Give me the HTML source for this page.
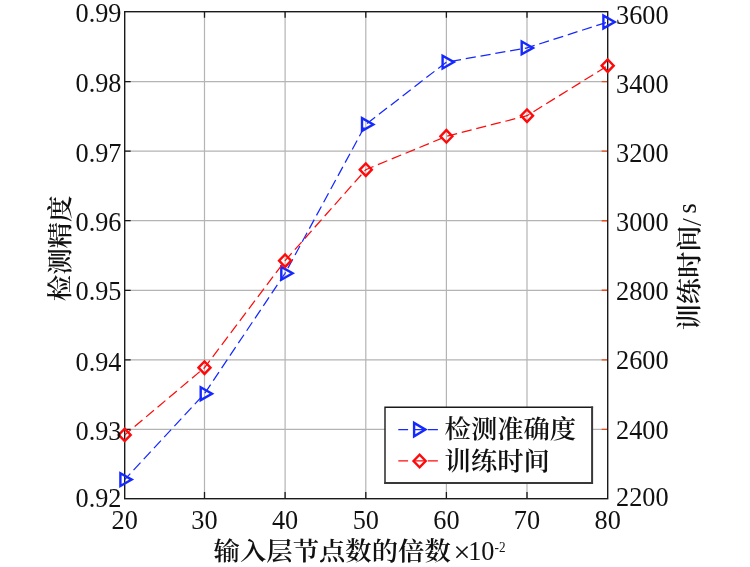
<!DOCTYPE html>
<html lang="zh"><head><meta charset="utf-8"><title>chart</title>
<style>html,body{margin:0;padding:0;background:#fff}svg{display:block;will-change:transform}text{font-family:'Liberation Serif','Noto Serif CJK SC',serif;fill:#111}.n{font-size:26.3px}.c{font-size:26.2px;font-weight:600}</style></head><body>
<svg width="750" height="567" viewBox="0 0 750 567">
<rect width="750" height="567" fill="#fff"/>
<path d="M204.5 11.7V498.7M285.1 11.7V498.7M365.8 11.7V498.7M446.4 11.7V498.7M527.0 11.7V498.7M124.7 81.6H607.7M124.7 151.1H607.7M124.7 220.7H607.7M124.7 290.3H607.7M124.7 359.9H607.7M124.7 429.4H607.7" stroke="#b4b4b4" stroke-width="1.2" fill="none"/>
<path d="M204.5 11.7v6.0M204.5 498.7v-6.8M285.1 11.7v6.0M285.1 498.7v-6.8M365.8 11.7v6.0M365.8 498.7v-6.8M446.4 11.7v6.0M446.4 498.7v-6.8M527.0 11.7v6.0M527.0 498.7v-6.8M124.7 81.6h6.0M124.7 151.1h6.0M124.7 220.7h6.0M124.7 290.3h6.0M124.7 359.9h6.0M124.7 429.4h6.0" stroke="#1a1a1a" stroke-width="1.3" fill="none"/>
<path d="M607.7 81.6h-6.0M607.7 151.1h-6.0M607.7 220.7h-6.0M607.7 290.3h-6.0M607.7 359.9h-6.0M607.7 429.4h-6.0" stroke="#f04a18" stroke-width="1.4" fill="none"/>
<rect x="124.7" y="11.7" width="483.0" height="487.0" fill="none" stroke="#1a1a1a" stroke-width="1.4"/>
<polyline points="124.7,479.6 204.5,393.7 285.1,273.3 365.8,124.5 446.4,62.1 527.0,47.9 607.7,22.0" fill="none" stroke="#1428ff" stroke-width="1.25" stroke-dasharray="10.2 4.8" stroke-dashoffset="2"/>
<polygon points="120.4,473.2 120.4,486.0 131.7,479.6" fill="none" stroke="#1428ff" stroke-width="2.4"/>
<polygon points="200.7,387.3 200.7,400.1 212.0,393.7" fill="none" stroke="#1428ff" stroke-width="2.4"/>
<polygon points="281.3,266.9 281.3,279.7 292.6,273.3" fill="none" stroke="#1428ff" stroke-width="2.4"/>
<polygon points="362.0,118.1 362.0,130.9 373.3,124.5" fill="none" stroke="#1428ff" stroke-width="2.4"/>
<polygon points="442.6,55.7 442.6,68.5 453.9,62.1" fill="none" stroke="#1428ff" stroke-width="2.4"/>
<polygon points="521.7,41.5 521.7,54.3 533.0,47.9" fill="none" stroke="#1428ff" stroke-width="2.4"/>
<polygon points="603.4,15.6 603.4,28.4 614.7,22.0" fill="none" stroke="#1428ff" stroke-width="2.4"/>
<polyline points="124.7,434.9 204.5,367.7 285.1,260.7 365.8,169.7 446.4,136.3 527.0,115.7 607.7,65.7" fill="none" stroke="#ff0a0a" stroke-width="1.25" stroke-dasharray="10.2 4.8" stroke-dashoffset="2"/>
<polygon points="118.7,434.9 124.7,428.7 130.7,434.9 124.7,441.1" fill="none" stroke="#ff0a0a" stroke-width="2.4"/>
<polygon points="198.5,367.7 204.5,361.5 210.5,367.7 204.5,373.9" fill="none" stroke="#ff0a0a" stroke-width="2.4"/>
<polygon points="279.1,260.7 285.1,254.5 291.1,260.7 285.1,266.9" fill="none" stroke="#ff0a0a" stroke-width="2.4"/>
<polygon points="359.8,169.7 365.8,163.5 371.8,169.7 365.8,175.9" fill="none" stroke="#ff0a0a" stroke-width="2.4"/>
<polygon points="440.4,136.3 446.4,130.1 452.4,136.3 446.4,142.5" fill="none" stroke="#ff0a0a" stroke-width="2.4"/>
<polygon points="521.0,115.7 527.0,109.5 533.0,115.7 527.0,121.9" fill="none" stroke="#ff0a0a" stroke-width="2.4"/>
<polygon points="601.7,65.7 607.7,59.5 613.7,65.7 607.7,71.9" fill="none" stroke="#ff0a0a" stroke-width="2.4"/>
<text class="n" transform="translate(121.5 22.0) scale(1 1.055)" text-anchor="end">0.99</text>
<text class="n" transform="translate(121.5 91.6) scale(1 1.055)" text-anchor="end">0.98</text>
<text class="n" transform="translate(121.5 161.7) scale(1 1.055)" text-anchor="end">0.97</text>
<text class="n" transform="translate(121.5 230.7) scale(1 1.055)" text-anchor="end">0.96</text>
<text class="n" transform="translate(121.5 300.0) scale(1 1.055)" text-anchor="end">0.95</text>
<text class="n" transform="translate(121.5 370.7) scale(1 1.055)" text-anchor="end">0.94</text>
<text class="n" transform="translate(121.5 440.2) scale(1 1.055)" text-anchor="end">0.93</text>
<text class="n" transform="translate(121.5 506.8) scale(1 1.055)" text-anchor="end">0.92</text>
<text class="n" transform="translate(616.0 23.5) scale(1 1.055)">3600</text>
<text class="n" transform="translate(616.0 92.6) scale(1 1.055)">3400</text>
<text class="n" transform="translate(616.0 161.5) scale(1 1.055)">3200</text>
<text class="n" transform="translate(616.0 231.3) scale(1 1.055)">3000</text>
<text class="n" transform="translate(616.0 300.2) scale(1 1.055)">2800</text>
<text class="n" transform="translate(616.0 369.2) scale(1 1.055)">2600</text>
<text class="n" transform="translate(616.0 438.6) scale(1 1.055)">2400</text>
<text class="n" transform="translate(616.0 506.0) scale(1 1.055)">2200</text>
<text class="n" transform="translate(124.7 528.7) scale(1 1.055)" text-anchor="middle">20</text>
<text class="n" transform="translate(204.5 528.7) scale(1 1.055)" text-anchor="middle">30</text>
<text class="n" transform="translate(285.1 528.7) scale(1 1.055)" text-anchor="middle">40</text>
<text class="n" transform="translate(365.8 528.7) scale(1 1.055)" text-anchor="middle">50</text>
<text class="n" transform="translate(446.4 528.7) scale(1 1.055)" text-anchor="middle">60</text>
<text class="n" transform="translate(527.0 528.7) scale(1 1.055)" text-anchor="middle">70</text>
<text class="n" transform="translate(607.7 528.7) scale(1 1.055)" text-anchor="middle">80</text>
<text class="c" transform="translate(213.6 560) scale(1.006 .95)">输入层节点数的倍数</text>
<text x="453.4" y="561.5" font-size="30">×</text>
<text class="n" x="468.2" y="560.3">10</text>
<text transform="translate(494.6 552.4) scale(1 1.15)" font-size="13.2">-2</text>
<text class="c" transform="translate(68.6 301.3) rotate(-90) scale(1.01 .95)">检测精度</text>
<text class="c" transform="translate(698.4 330.3) rotate(-90) scale(1 .95)">训练时间</text>
<text font-size="28" transform="translate(700.6,226.1) rotate(-90)">/</text>
<text class="n" transform="translate(696.3,213.4) rotate(-90)">s</text>
<rect x="385" y="407.2" width="207.6" height="76.3" fill="#fff"/>
<path d="M385 484V407.2H593.1" fill="none" stroke="#1a1a1a" stroke-width="1.4"/>
<path d="M592.1 406.5V483H384.3" fill="none" stroke="#383838" stroke-width="2"/>
<path d="M398.3 429.6H408.1M413.5 429.6H425.5M427.8 429.6H437.9" stroke="#1428ff" stroke-width="1.3"/>
<polygon points="414.1,422.9 414.1,436.3 425.4,429.6" fill="none" stroke="#1428ff" stroke-width="2.4"/>
<path d="M398.3 460.9H408.1M414 460.9H425.5M427.8 460.9H437.9" stroke="#ff0a0a" stroke-width="1.3"/>
<polygon points="413.5,461.0 419.6,454.7 425.7,461.0 419.6,467.3" fill="none" stroke="#ff0a0a" stroke-width="2.4"/>
<text class="c" transform="translate(444.6 438.4) scale(1.004 .95)">检测准确度</text>
<text class="c" transform="translate(444.6 470.1) scale(1.004 .95)">训练时间</text>
</svg></body></html>
